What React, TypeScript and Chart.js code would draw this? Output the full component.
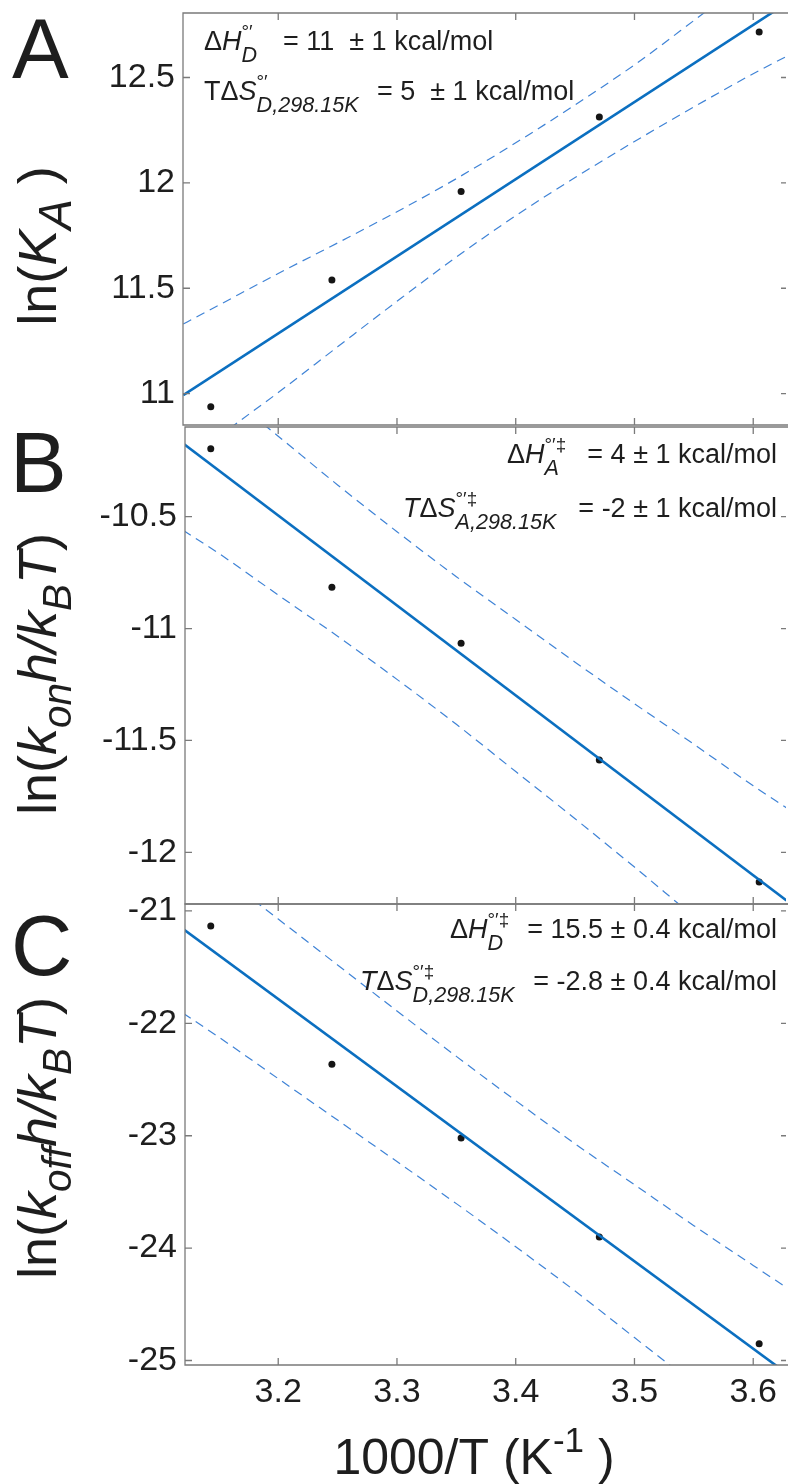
import React, { useEffect, useRef } from "react";
import { Chart, registerables } from "chart.js";
Chart.register(...registerables);

const FAMILY = '"Liberation Sans", Arial, Helvetica, sans-serif';
const PAGE_W = 790;

// ---------- data ----------
const invT = [3.1432, 3.2452, 3.354, 3.4704, 3.605];
const lnKA = [10.938, 11.539, 11.959, 12.312, 12.716];
const lnKonB = [-10.196, -10.815, -11.065, -11.587, -12.133];
const lnKoffC = [-21.133, -22.364, -23.02, -23.9, -24.852];

const fitX = [3.12, 3.628];
const fitA = [10.993, 12.852];
const fitB = [-10.173, -12.215];
const fitC = [-21.16, -25.113];

const bandX = [3.12, 3.15, 3.2, 3.25, 3.3, 3.35, 3.4, 3.45, 3.5, 3.55, 3.6, 3.628];
const upperA = [11.33, 11.42, 11.57, 11.715, 11.863, 12.02, 12.19, 12.37, 12.56, 12.77, 12.985, 13.1];
const lowerA = [10.655, 10.795, 11.005, 11.222, 11.438, 11.648, 11.844, 12.025, 12.196, 12.36, 12.518, 12.6];
const upperB = [-9.785, -9.924, -10.14, -10.358, -10.567, -10.768, -10.959, -11.15, -11.336, -11.517, -11.703, -11.801];
const lowerB = [-10.561, -10.664, -10.85, -11.034, -11.227, -11.428, -11.639, -11.85, -12.066, -12.287, -12.503, -12.621];
const upperC = [-20.41, -20.663, -21.072, -21.481, -21.89, -22.294, -22.688, -23.072, -23.436, -23.8, -24.154, -24.35];
const lowerC = [-21.91, -22.123, -22.492, -22.861, -23.23, -23.604, -23.988, -24.382, -24.796, -25.21, -25.634, -25.86];

const xTicks = [3.2, 3.3, 3.4, 3.5, 3.6];
const yTicksA = [11, 11.5, 12, 12.5];
const yTicksB = [-12, -11.5, -11, -10.5];
const yTicksC = [-25, -24, -23, -22, -21];

const xRangeA = [3.1198, 3.6276];
const xRangeBC = [3.1215, 3.6276];
const yRangeA = [10.851, 12.806];
const yRangeB = [-12.231, -10.099];
const yRangeC = [-25.04, -20.938];

// ---------- rich text ----------
type Seg = { t: string; it?: boolean; sc?: number; dy?: number; over?: boolean };

function segFont(base: number, s: Seg) {
  return `${s.it ? "italic " : ""}${(base * (s.sc ?? 1)).toFixed(1)}px ${FAMILY}`;
}

function drawRich(ctx: CanvasRenderingContext2D, segs: Seg[], x: number, y: number, base: number, align: "left" | "right" | "center") {
  let cx = 0;
  let prevStart = 0;
  const pos: number[] = [];
  for (const s of segs) {
    ctx.font = segFont(base, s);
    const w = ctx.measureText(s.t).width;
    const start = s.over ? prevStart : cx;
    pos.push(start);
    const end = start + w;
    cx = s.over ? Math.max(cx, end) : end;
    prevStart = start;
  }
  const total = cx;
  const x0 = align === "left" ? x : align === "right" ? x - total : x - total / 2;
  ctx.textAlign = "left";
  ctx.textBaseline = "alphabetic";
  segs.forEach((s, i) => {
    ctx.font = segFont(base, s);
    ctx.fillText(s.t, x0 + pos[i], y + (s.dy ?? 0));
  });
}

const NOTE_SIZE = 27;
const SUP = (t: string): Seg => ({ t, sc: 0.7, dy: -12 });
const SUB = (t: string): Seg => ({ t, it: true, sc: 0.8, dy: 12, over: true });
const TSUB = (t: string, base: number, sc = 0.75): Seg => ({ t, it: true, sc, dy: base * 0.27 });

type Note = { segs: Seg[]; x: number; y: number; align: "left" | "right" };

interface PanelSpec {
  canvasTop: number;
  canvasHeight: number;
  padTop: number;
  padBottom: number;
  axisLeft: number;
  xRange: number[];
  yRange: number[];
  yTicks: number[];
  points: number[];
  fit: number[];
  upper: number[];
  lower: number[];
  showX: boolean;
  letter: string;
  letterX: number;
  letterY: number;
  title: Seg[];
  titleX: number;
  titleY: number;
  notes: Note[];
}

const TB = 54;

const panels: PanelSpec[] = [
  {
    canvasTop: -20, canvasHeight: 470, padTop: 33, padBottom: 25, axisLeft: 183,
    xRange: xRangeA, yRange: yRangeA, yTicks: yTicksA,
    points: lnKA, fit: fitA, upper: upperA, lower: lowerA, showX: false,
    letter: "A", letterX: 12, letterY: 78,
    title: [{ t: "ln(" }, { t: "K", it: true }, TSUB("A", TB, 0.85), { t: " )" }],
    titleX: 56, titleY: 246,
    notes: [
      { x: 204, y: 50, align: "left", segs: [{ t: "Δ" }, { t: "H", it: true }, SUP("°′"), SUB("D")] },
      { x: 283, y: 50, align: "left", segs: [{ t: "= 11  ± 1 kcal/mol" }] },
      { x: 204, y: 100, align: "left", segs: [{ t: "TΔ" }, { t: "S", it: true }, SUP("°′"), SUB("D,298.15K")] },
      { x: 377, y: 100, align: "left", segs: [{ t: "= 5  ± 1 kcal/mol" }] },
    ],
  },
  {
    canvasTop: 400, canvasHeight: 529, padTop: 27, padBottom: 25, axisLeft: 185,
    xRange: xRangeBC, yRange: yRangeB, yTicks: yTicksB,
    points: lnKonB, fit: fitB, upper: upperB, lower: lowerB, showX: false,
    letter: "B", letterX: 10, letterY: 492,
    title: [
      { t: "ln(" }, { t: "k", it: true }, TSUB("on", TB), { t: "h/k", it: true }, TSUB("B", TB), { t: "T", it: true }, { t: ")" },
    ],
    titleX: 56, titleY: 674,
    notes: [
      { x: 507, y: 463, align: "left", segs: [{ t: "Δ" }, { t: "H", it: true }, SUP("°′‡"), SUB("A")] },
      { x: 777, y: 463, align: "right", segs: [{ t: "= 4 ± 1 kcal/mol" }] },
      { x: 403, y: 517, align: "left", segs: [{ t: "T", it: true }, { t: "Δ" }, { t: "S", it: true }, SUP("°′‡"), SUB("A,298.15K")] },
      { x: 777, y: 517, align: "right", segs: [{ t: "= -2 ± 1 kcal/mol" }] },
    ],
  },
  {
    canvasTop: 880, canvasHeight: 604, padTop: 24, padBottom: 0, axisLeft: 185,
    xRange: xRangeBC, yRange: yRangeC, yTicks: yTicksC,
    points: lnKoffC, fit: fitC, upper: upperC, lower: lowerC, showX: true,
    letter: "C", letterX: 11, letterY: 975,
    title: [
      { t: "ln(" }, { t: "k", it: true }, TSUB("off", TB), { t: "h/k", it: true }, TSUB("B", TB), { t: "T", it: true }, { t: ")" },
    ],
    titleX: 56, titleY: 1138,
    notes: [
      { x: 450, y: 938, align: "left", segs: [{ t: "Δ" }, { t: "H", it: true }, SUP("°′‡"), SUB("D")] },
      { x: 777, y: 938, align: "right", segs: [{ t: "= 15.5 ± 0.4 kcal/mol" }] },
      { x: 360, y: 990, align: "left", segs: [{ t: "T", it: true }, { t: "Δ" }, { t: "S", it: true }, SUP("°′‡"), SUB("D,298.15K")] },
      { x: 777, y: 990, align: "right", segs: [{ t: "= -2.8 ± 0.4 kcal/mol" }] },
    ],
  },
];

const AXIS_COLOR = "#7a7a7a";
const TEXT_COLOR = "#1e1e1e";
const FIT_COLOR = "#0b6fc0";
const BAND_COLOR = "#3f83d6";

function makeChart(canvas: HTMLCanvasElement, p: PanelSpec) {
  const toPts = (xs: number[], ys: number[]) => xs.map((x, i) => ({ x, y: ys[i] }));
  const deco = {
    id: "deco",
    afterDatasetsDraw(chart: any) {
      const ctx: CanvasRenderingContext2D = chart.ctx;
      const { left, right, top, bottom } = chart.chartArea;
      const xs = chart.scales.x;
      const ys = chart.scales.y;
      ctx.save();
      ctx.strokeStyle = AXIS_COLOR;
      ctx.lineWidth = 1.3;
      // box: left, top, bottom (right edge falls outside the picture)
      ctx.beginPath();
      ctx.moveTo(right + 2, top);
      ctx.lineTo(left, top);
      ctx.lineTo(left, bottom);
      ctx.lineTo(right + 2, bottom);
      ctx.stroke();
      const tl = 7;
      ctx.beginPath();
      for (const v of xTicks) {
        const px = xs.getPixelForValue(v);
        ctx.moveTo(px, bottom);
        ctx.lineTo(px, bottom - tl);
        ctx.moveTo(px, top);
        ctx.lineTo(px, top + tl);
      }
      for (const v of p.yTicks) {
        const py = ys.getPixelForValue(v);
        ctx.moveTo(left, py);
        ctx.lineTo(left + tl, py);
        ctx.moveTo(right, py);
        ctx.lineTo(right - 5, py);
      }
      ctx.stroke();
      ctx.restore();
    },
    afterDraw(chart: any) {
      const ctx: CanvasRenderingContext2D = chart.ctx;
      const off = p.canvasTop;
      ctx.save();
      ctx.fillStyle = TEXT_COLOR;
      ctx.font = `85px ${FAMILY}`;
      ctx.textAlign = "left";
      ctx.textBaseline = "alphabetic";
      ctx.fillText(p.letter, p.letterX, p.letterY - off);
      ctx.save();
      ctx.translate(p.titleX, p.titleY - off);
      ctx.rotate(-Math.PI / 2);
      drawRich(ctx, p.title, 0, 0, TB, "center");
      ctx.restore();
      for (const n of p.notes) drawRich(ctx, n.segs, n.x, n.y - off, NOTE_SIZE, n.align);
      if (p.showX) {
        drawRich(
          ctx,
          [{ t: "1000/T (K" }, { t: "-1", sc: 0.7, dy: -22 }, { t: " )" }],
          474,
          1474 - off,
          50,
          "center"
        );
      }
      ctx.restore();
    },
  };

  const band = (ys: number[]) =>
    ({
      type: "line",
      data: toPts(bandX, ys),
      borderColor: BAND_COLOR,
      borderWidth: 1.2,
      borderDash: [9, 6],
      pointRadius: 0,
      cubicInterpolationMode: "monotone",
      fill: false,
      clip: 0,
    } as any);

  return new Chart(canvas, {
    type: "scatter",
    data: {
      datasets: [
        band(p.upper),
        band(p.lower),
        {
          type: "line",
          data: toPts(fitX, p.fit),
          borderColor: FIT_COLOR,
          borderWidth: 2.6,
          pointRadius: 0,
          fill: false,
          clip: 0,
        } as any,
        {
          type: "scatter",
          data: toPts(invT, p.points),
          backgroundColor: "#151515",
          borderWidth: 0,
          pointRadius: 3.5,
        } as any,
      ],
    },
    options: {
      animation: false,
      responsive: false,
      devicePixelRatio: 1,
      layout: { padding: { left: 0, right: 0, top: p.padTop, bottom: p.padBottom } },
      plugins: { legend: { display: false }, tooltip: { enabled: false } },
      scales: {
        x: {
          type: "linear",
          min: p.xRange[0],
          max: p.xRange[1],
          grid: { display: false, drawTicks: false },
          border: { display: false },
          ticks: {
            display: p.showX,
            padding: 7,
            color: TEXT_COLOR,
            font: { family: FAMILY, size: 34 },
            callback: (v: any) => String(v),
          },
          afterBuildTicks: (s: any) => {
            s.ticks = xTicks.map((v) => ({ value: v }));
          },
          afterFit: (s: any) => {
            s.height = p.showX ? 119 : 0;
            s.paddingLeft = 0;
            s.paddingRight = 0;
          },
        },
        y: {
          type: "linear",
          min: p.yRange[0],
          max: p.yRange[1],
          grid: { display: false, drawTicks: false },
          border: { display: false },
          ticks: {
            padding: 8,
            color: TEXT_COLOR,
            font: { family: FAMILY, size: 34 },
            callback: (v: any) => String(v),
          },
          afterBuildTicks: (s: any) => {
            s.ticks = p.yTicks.map((v) => ({ value: v }));
          },
          afterFit: (s: any) => {
            s.width = p.axisLeft;
            s.paddingTop = 0;
            s.paddingBottom = 0;
          },
        },
      },
    },
    plugins: [deco],
  } as any);
}

export default function App() {
  const refs = [useRef<HTMLCanvasElement>(null), useRef<HTMLCanvasElement>(null), useRef<HTMLCanvasElement>(null)];
  useEffect(() => {
    const charts = panels.map((p, i) => makeChart(refs[i].current as HTMLCanvasElement, p));
    return () => charts.forEach((c) => c.destroy());
  }, []);
  return (
    <div style={{ position: "absolute", left: 0, top: 0, width: PAGE_W, height: 1484, background: "#ffffff", overflow: "hidden" }}>
      {panels.map((p, i) => (
        <canvas
          key={i}
          ref={refs[i]}
          width={PAGE_W}
          height={p.canvasHeight}
          style={{ position: "absolute", left: 0, top: p.canvasTop, width: PAGE_W, height: p.canvasHeight }}
        />
      ))}
    </div>
  );
}
